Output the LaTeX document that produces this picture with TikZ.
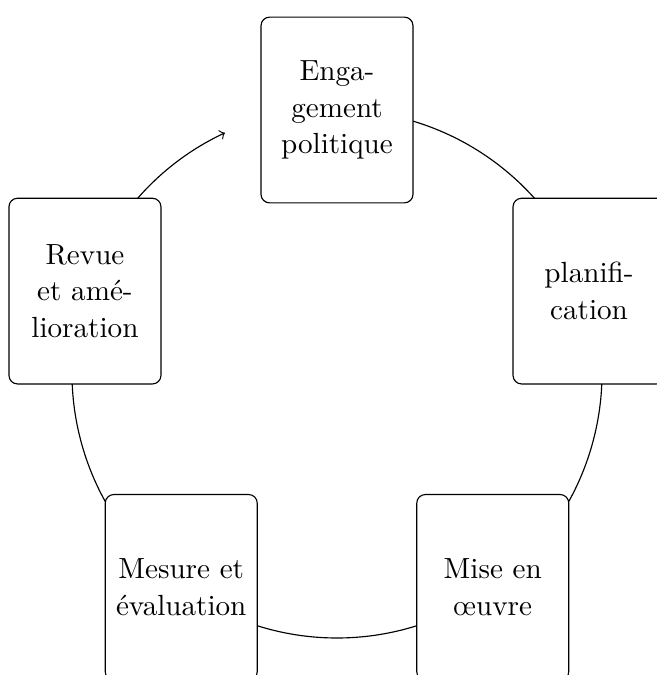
\documentclass[tikz,border=0pt]{standalone}
\usepackage{tikz}
\usetikzlibrary{backgrounds}

\begin{document}
\begin{tikzpicture}[x=0.35pt,y=0.35pt,
        every node/.style={stage},
        stage/.style={draw,rectangle,rounded corners=3pt,fill=white,align=center,
                      font=\fontsize{10.2}{12.8}\selectfont,
                      minimum width=53.2pt,minimum height=65pt,inner sep=2pt}]
   \clip (-337,-302) rectangle (320,373);
   \node (eng) at (90:263) {Enga-\\gement\\politique};
   \node (pla) at (18:265) {planifi-\\cation};
   \node (mis) at (-54:265) {Mise en\\\oe uvre};
   \node (mes) at (-126:265) {Mesure et\\\'evaluation};
   \node (rev) at (162:265) {Revue\\et am\'e-\\lioration};
   \begin{scope}[on background layer]
      \draw (eng.center) arc[start angle=90,end angle=18,radius=265];
      \draw (pla.center) arc[start angle=18,end angle=-54,radius=265];
      \draw (mis.center) arc[start angle=-54,end angle=-126,radius=265];
      \draw (mes.center) arc[start angle=-126,end angle=-198,radius=265];
      \draw[->] (rev.center) arc[start angle=162,end angle=115,radius=265];
   \end{scope}
\end{tikzpicture}
\end{document}
